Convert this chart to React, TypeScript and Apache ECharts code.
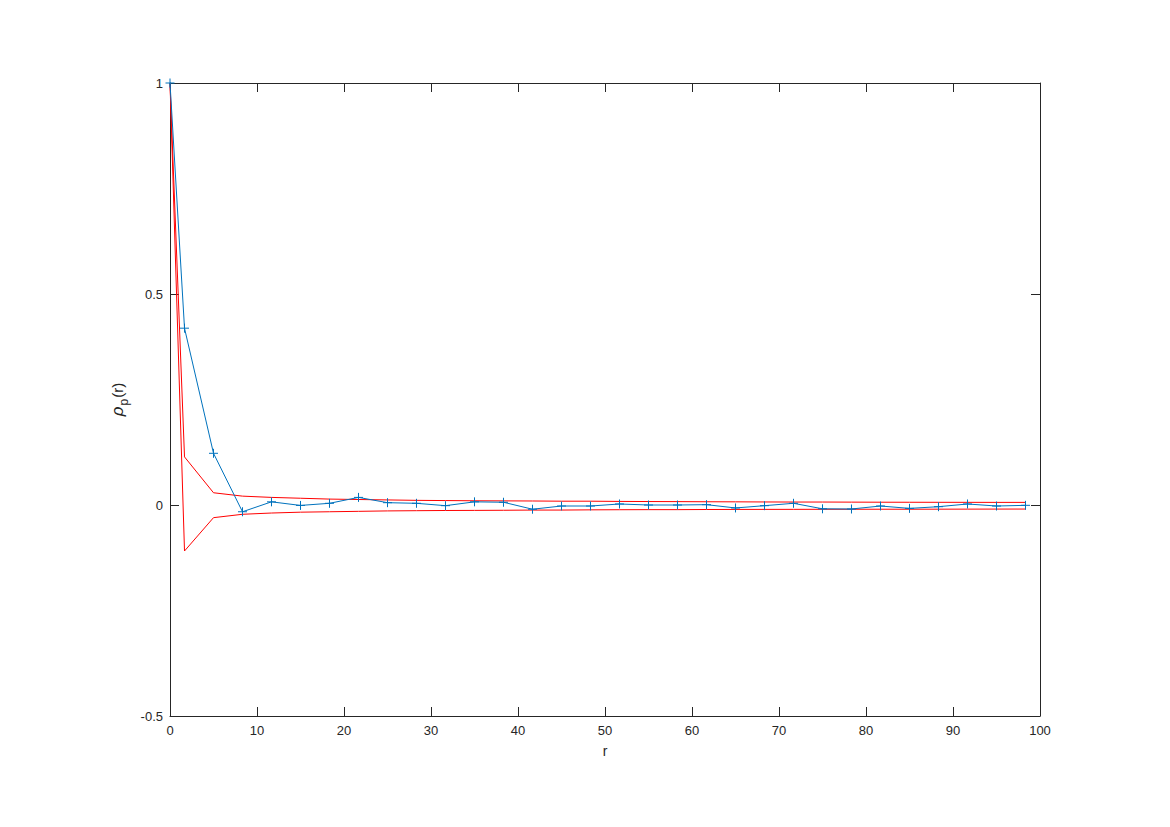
import React, { useEffect, useRef } from "react";
import * as echarts from "echarts";

const lags = [0, 1.667, 5, 8.333, 11.667, 15, 18.333, 21.667, 25, 28.333, 31.667, 35, 38.333, 41.667, 45, 48.333, 51.667, 55, 58.333, 61.667, 65, 68.333, 71.667, 75, 78.333, 81.667, 85, 88.333, 91.667, 95, 98.333];
const rho = [1, 0.419, 0.1225, -0.016, 0.0075, -0.001, 0.004, 0.018, 0.0055, 0.004, -0.0016, 0.0075, 0.0065, -0.01, -0.0024, -0.0024, 0.0024, 0, 0, 0.0008, -0.007, -0.0016, 0.004, -0.009, -0.0095, -0.0024, -0.008, -0.004, 0.0024, -0.0024, -0.0008];
const upper = [1, 0.114, 0.029, 0.021, 0.018, 0.016, 0.014, 0.013, 0.012, 0.011, 0.0105, 0.01, 0.0098, 0.0095, 0.009, 0.009, 0.0085, 0.0082, 0.008, 0.0077, 0.0075, 0.0072, 0.007, 0.007, 0.0068, 0.0066, 0.0065, 0.0064, 0.0063, 0.0062, 0.0062];
const lower = [1, -0.109, -0.03, -0.022, -0.019, -0.017, -0.016, -0.015, -0.014, -0.0135, -0.013, -0.0128, -0.0125, -0.012, -0.012, -0.0115, -0.0112, -0.011, -0.011, -0.0107, -0.0105, -0.0104, -0.0103, -0.0102, -0.0101, -0.01, -0.01, -0.0099, -0.0098, -0.0097, -0.0096];
const yTicks = { min: -0.5, max: 1, interval: 0.5 };
const xTicks = { min: 0, max: 100, interval: 10 };

const axisColor = "#262626";
const font = "Liberation Sans, Arial, sans-serif";

export default function App() {
  const ref = useRef<HTMLDivElement>(null);
  useEffect(() => {
    if (!ref.current) return;
    const chart = echarts.init(ref.current, null, { renderer: "svg" });
    const pts = (ys: number[]) => lags.map((x, i) => [x, ys[i]]);
    const baseAxis = {
      axisLine: { show: true, onZero: false, lineStyle: { color: axisColor, width: 1 } },
      axisTick: { show: true, inside: true, length: 9, lineStyle: { color: axisColor } },
      splitLine: { show: false },
    };
    chart.setOption({
      animation: false,
      backgroundColor: "#ffffff",
      grid: { left: 170, right: 130, top: 83, bottom: 111 },
      xAxis: [
        {
          type: "value",
          ...xTicks,
          ...baseAxis,
          axisLabel: { color: axisColor, fontSize: 13, fontFamily: font, margin: 8 },
          name: "r",
          nameLocation: "middle",
          nameGap: 28,
          nameTextStyle: { color: axisColor, fontSize: 14, fontFamily: font },
        },
        {
          type: "value",
          position: "top",
          ...xTicks,
          ...baseAxis,
          axisLabel: { show: false },
        },
      ],
      yAxis: [
        {
          type: "value",
          ...yTicks,
          ...baseAxis,
          axisLabel: { color: axisColor, fontSize: 13, fontFamily: font, margin: 7 },
          name: "{rho|ρ}{sub|p}{n|(r)}",
          nameLocation: "middle",
          nameGap: 34,
          nameTextStyle: {
            color: axisColor,
            fontFamily: font,
            rich: {
              rho: { fontSize: 17, fontStyle: "italic", fontFamily: font, color: axisColor, padding: [0, 1, 0, 0] },
              sub: { fontSize: 12, fontFamily: font, color: axisColor, padding: [12, 1, 0, 0] },
              n: { fontSize: 15, fontFamily: font, color: axisColor },
            },
          },
        },
        {
          type: "value",
          position: "right",
          ...yTicks,
          ...baseAxis,
          axisLabel: { show: false },
        },
      ],
      series: [
        {
          type: "line",
          data: pts(upper),
          showSymbol: false,
          lineStyle: { color: "#ff0000", width: 1 },
          itemStyle: { color: "#ff0000" },
          silent: true,
        },
        {
          type: "line",
          data: pts(lower),
          showSymbol: false,
          lineStyle: { color: "#ff0000", width: 1 },
          itemStyle: { color: "#ff0000" },
          silent: true,
        },
        {
          type: "line",
          data: pts(rho),
          symbol: "path://M5,0L5,10M0,5L10,5",
          symbolSize: 9,
          showSymbol: true,
          lineStyle: { color: "#0072BD", width: 1 },
          itemStyle: { color: "none", borderColor: "#0072BD", borderWidth: 1 },
          silent: true,
        },
      ],
    });
    return () => chart.dispose();
  }, []);
  return <div ref={ref} style={{ width: 1170, height: 827, margin: -8 }} />;
}
